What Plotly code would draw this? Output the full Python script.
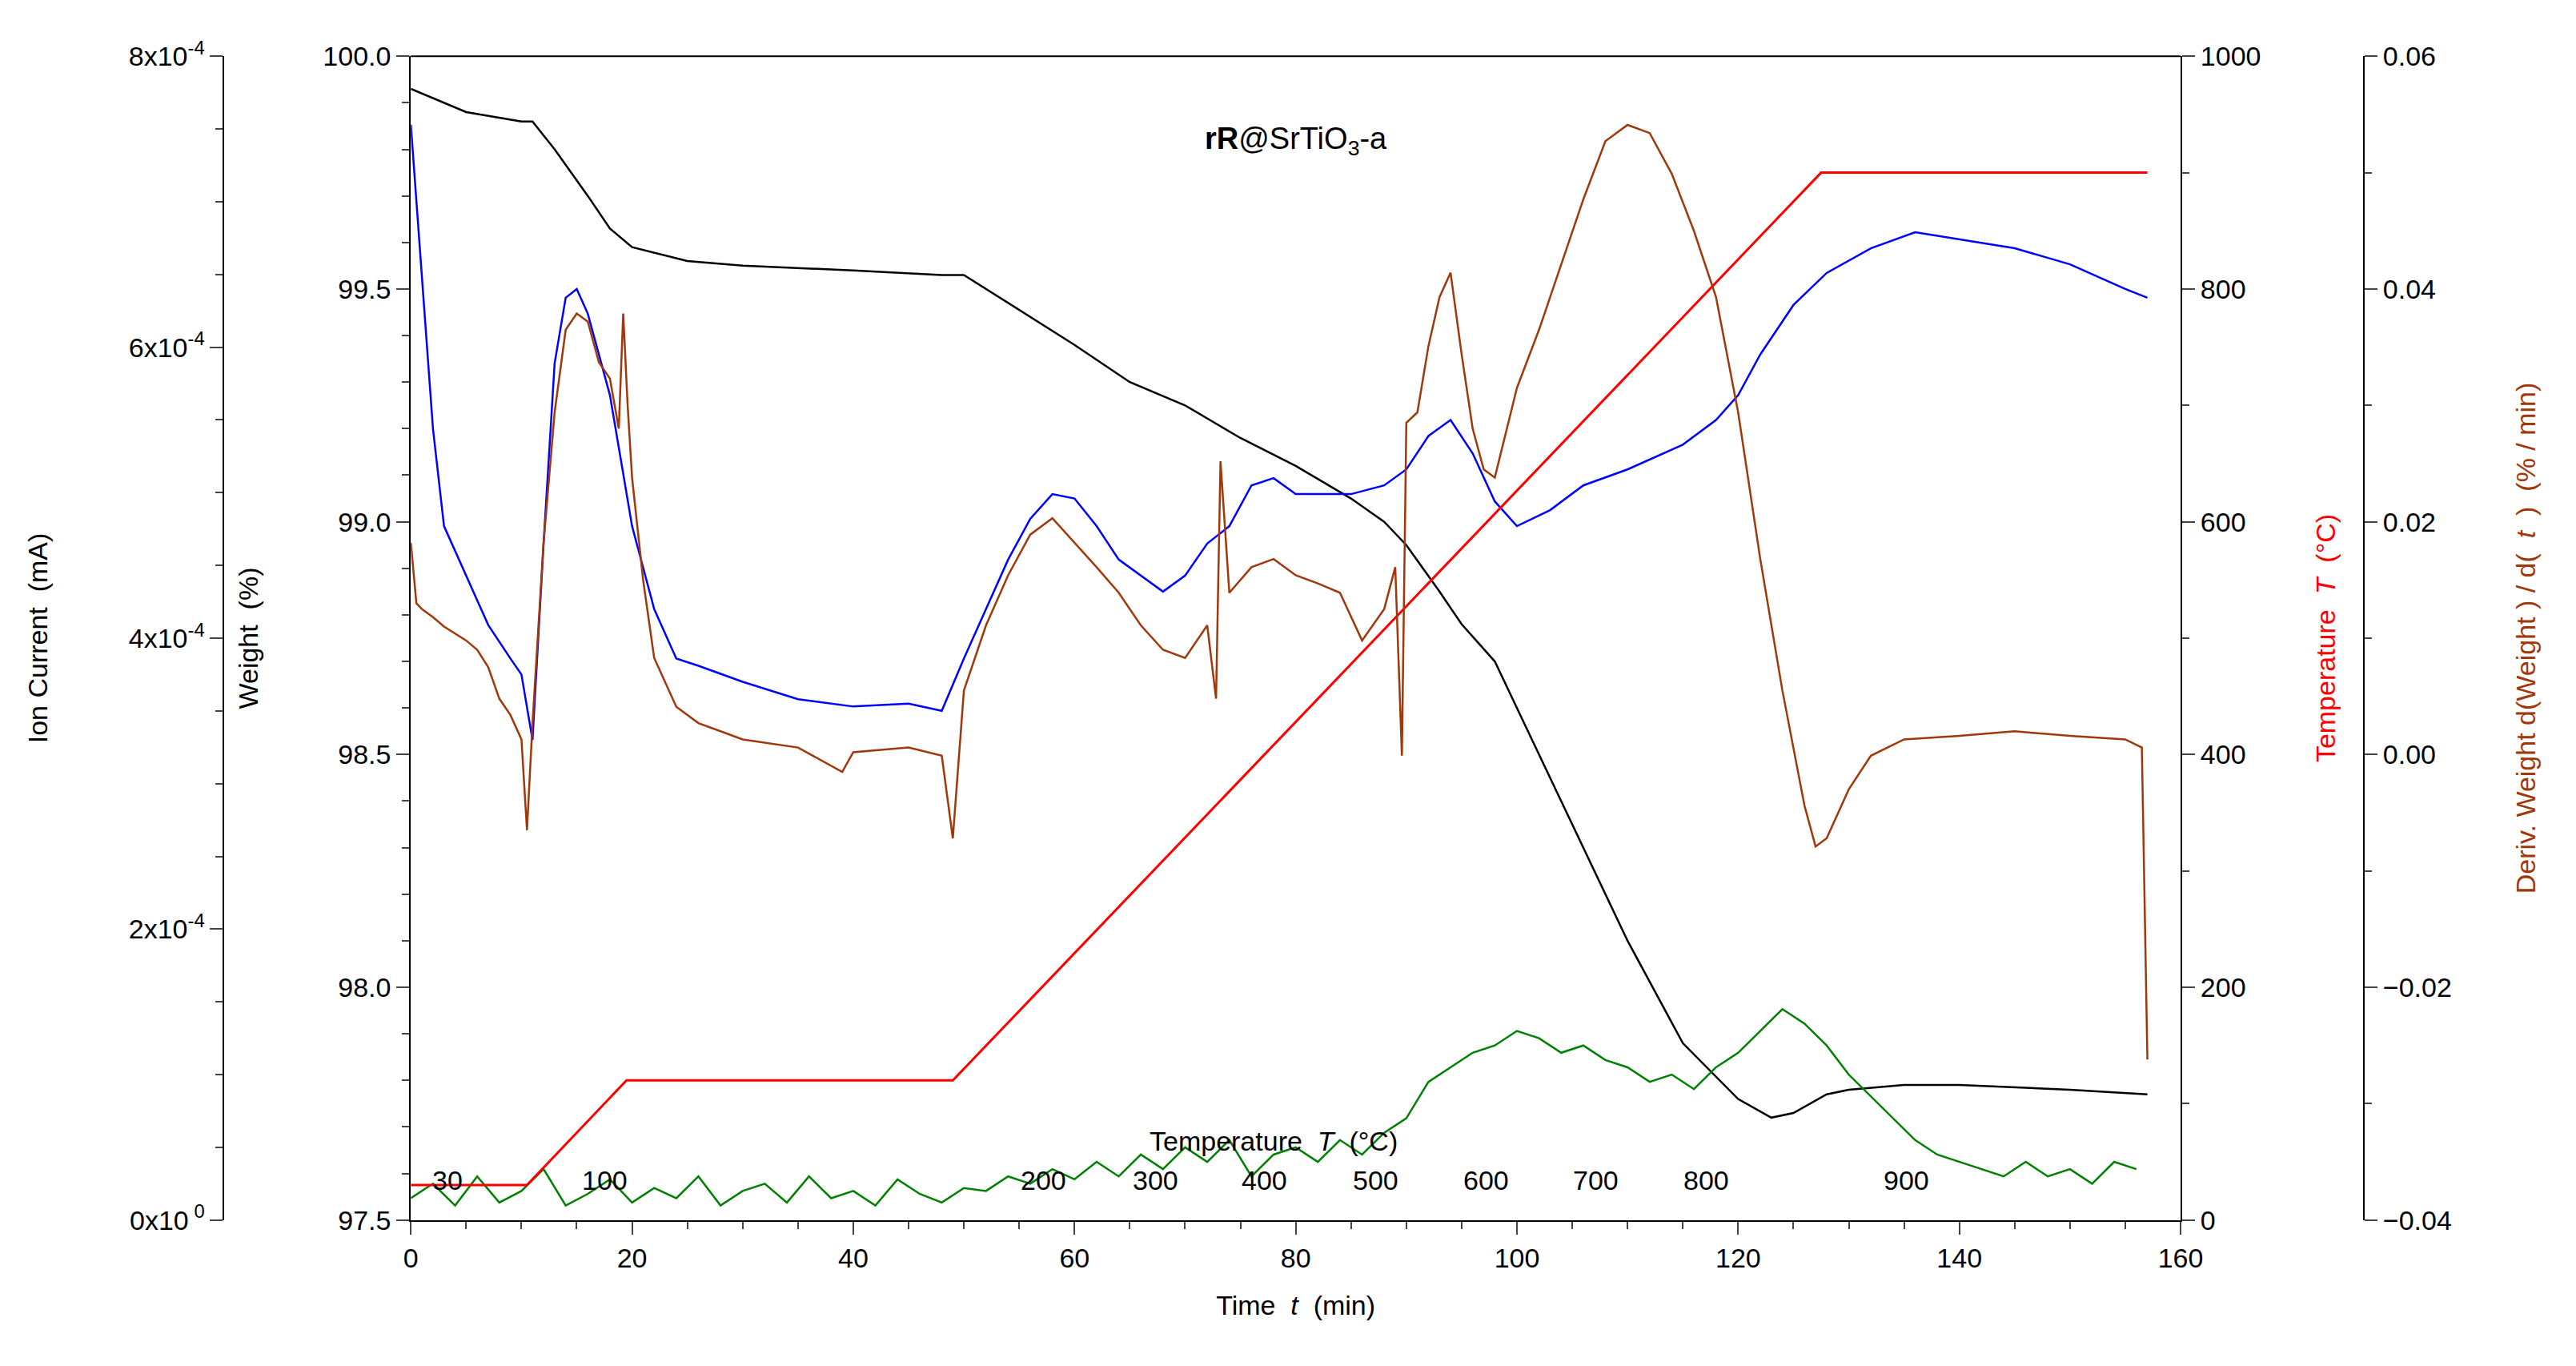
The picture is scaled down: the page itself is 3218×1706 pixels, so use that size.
import plotly.graph_objects as go

# weight (%)
w_t = [0, 5, 10, 11, 13, 16, 18, 20, 25, 30, 40, 48, 50, 52, 56, 60, 65, 70, 75, 80, 85, 88,
       90, 93, 95, 98, 100, 105, 110, 115, 120, 123, 125, 128, 130, 135, 140, 150, 157]
weight = [99.93, 99.88, 99.86, 99.86, 99.8, 99.7, 99.63, 99.59, 99.56, 99.55, 99.54, 99.53,
          99.53, 99.5, 99.44, 99.38, 99.3, 99.25, 99.18, 99.12, 99.05, 99.0, 98.95, 98.85,
          98.78, 98.7, 98.6, 98.35, 98.1, 97.88, 97.76, 97.72, 97.73, 97.77, 97.78, 97.79,
          97.79, 97.78, 97.77]

# temperature program (°C)
temp_t = [0, 10.5, 19.5, 49, 127.5, 157]
temp = [30, 30, 120, 120, 900, 900]

# ion current, blue (units of 1e-4 mA)
blue_t = [0, 1, 2, 3, 5, 7, 9, 10, 11, 12, 13, 14, 15, 16, 17, 18, 19, 20, 22, 24, 26, 30, 35,
          40, 45, 48, 50, 52, 54, 56, 58, 60, 62, 64, 66, 68, 70, 72, 74, 76, 78, 80, 85, 88,
          90, 92, 94, 96, 98, 100, 103, 106, 110, 115, 118, 120, 122, 125, 128, 132, 136,
          140, 145, 150, 155, 157]
blue = [7.53, 6.46, 5.44, 4.77, 4.43, 4.09, 3.86, 3.75, 3.30, 4.65, 5.89, 6.34, 6.40, 6.23,
        5.95, 5.67, 5.22, 4.77, 4.20, 3.86, 3.81, 3.70, 3.58, 3.53, 3.55, 3.50, 3.86, 4.20,
        4.54, 4.82, 4.99, 4.96, 4.77, 4.54, 4.43, 4.32, 4.43, 4.65, 4.77, 5.05, 5.10, 4.99,
        4.99, 5.05, 5.16, 5.39, 5.50, 5.27, 4.94, 4.77, 4.88, 5.05, 5.16, 5.33, 5.50, 5.67,
        5.95, 6.29, 6.51, 6.68, 6.79, 6.74, 6.68, 6.57, 6.40, 6.34]

# ion current, green (units of 1e-4 mA), every 2 min
green_t = list(range(0, 158, 2))
green = [0.15, 0.25, 0.1, 0.3, 0.12, 0.2, 0.35, 0.1, 0.18, 0.28, 0.12, 0.22, 0.15, 0.3, 0.1,
         0.2, 0.25, 0.12, 0.3, 0.15, 0.2, 0.1, 0.28, 0.18, 0.12, 0.22,
         0.2, 0.3, 0.25, 0.35, 0.28, 0.4, 0.3, 0.45, 0.35, 0.5, 0.4, 0.55, 0.3, 0.45, 0.5,
         0.4, 0.55, 0.45, 0.6, 0.7,
         0.95, 1.05, 1.15, 1.2, 1.3, 1.25, 1.15, 1.2, 1.1, 1.05, 0.95, 1.0, 0.9, 1.05, 1.15,
         1.3, 1.45, 1.35, 1.2, 1.0, 0.85, 0.7, 0.55, 0.45, 0.4, 0.35, 0.3, 0.4, 0.3, 0.35,
         0.25, 0.4, 0.35]

# derivative of weight (%/min)
dtg_t = [0, 0.5, 1, 2, 3, 4, 5, 6, 7, 8, 9, 10, 10.5, 11, 12, 13, 14, 15, 16, 17, 18, 18.8,
         19.2, 19.6, 20, 21, 22, 24, 26, 28, 30, 35, 39, 40, 45, 48, 49, 50, 52, 54, 56, 58,
         60, 62, 64, 66, 68, 70, 72, 72.8, 73.2, 74, 76, 78, 80, 82, 84, 86, 88, 89, 89.6,
         90, 91, 92, 93, 94, 95, 96, 97, 98, 100, 102, 104, 106, 108, 110, 112, 114, 116,
         118, 120, 122, 124, 126, 127, 128, 130, 132, 135, 140, 145, 150, 155, 156.5, 157]
dtg = [0.0182, 0.013, 0.0125, 0.0118, 0.011, 0.0104, 0.0098, 0.009, 0.0075, 0.0048, 0.0034,
       0.0013, -0.0065, 0.0027, 0.0182, 0.0294, 0.0365, 0.0379, 0.0372, 0.0337, 0.0323,
       0.028, 0.0379, 0.030, 0.0238, 0.015, 0.0083, 0.0041, 0.0027, 0.002, 0.0013, 0.0006,
       -0.0015, 0.0002, 0.0006, -0.0001, -0.0072, 0.0055, 0.0111, 0.0154, 0.0189, 0.0203,
       0.0182, 0.0161, 0.0139, 0.0111, 0.009, 0.0083, 0.0111, 0.0048, 0.0252, 0.0139,
       0.0161, 0.0168, 0.0154, 0.0147, 0.0139, 0.0098, 0.0125, 0.0161, -0.0001, 0.0285,
       0.0294, 0.0351, 0.0393, 0.0414, 0.0344, 0.028, 0.0245, 0.0238, 0.0315, 0.0365,
       0.0421, 0.0477, 0.0527, 0.0541, 0.0534, 0.0499, 0.045, 0.0393, 0.0294, 0.0168,
       0.0055, -0.0044, -0.0079, -0.0072, -0.003, -0.0001, 0.0013, 0.0016, 0.002, 0.0016,
       0.0013, 0.0006, -0.0262]

# temperature labels along the bottom
tl_x = [3.3, 17.5, 57.2, 67.3, 77.2, 87.2, 97.2, 107.1, 117.1, 135.2]
tl_text = ["30", "100", "200", "300", "400", "500", "600", "700", "800", "900"]

FONT = "Liberation Sans, Arial, sans-serif"
BROWN = "#a0380a"
fs = 34

fig = go.Figure()
fig.add_trace(go.Scatter(x=green_t, y=green, yaxis="y2", mode="lines",
                         line=dict(color="green", width=2.5)))
fig.add_trace(go.Scatter(x=blue_t, y=blue, yaxis="y2", mode="lines",
                         line=dict(color="blue", width=2.5)))
fig.add_trace(go.Scatter(x=dtg_t, y=dtg, yaxis="y4", mode="lines",
                         line=dict(color=BROWN, width=2.5)))
fig.add_trace(go.Scatter(x=temp_t, y=temp, yaxis="y3", mode="lines",
                         line=dict(color="red", width=3)))
fig.add_trace(go.Scatter(x=w_t, y=weight, yaxis="y", mode="lines",
                         line=dict(color="black", width=2.5)))

ax = dict(showline=True, linecolor="black", linewidth=2, ticks="outside", ticklen=16,
          tickwidth=2, showgrid=False, zeroline=False, tickfont=dict(size=fs, color="black"))

fig.update_layout(
    width=3218, height=1706, plot_bgcolor="white", paper_bgcolor="white",
    showlegend=False, margin=dict(l=0, r=0, t=0, b=0),
    font=dict(family=FONT, size=fs, color="black"),
    xaxis=dict(ax, domain=[0.156, 0.851], range=[0, 160], dtick=20,
               minor=dict(dtick=5, ticks="outside", ticklen=9, tickwidth=2),
               title=dict(text="Time  <i>t</i>  (min)", font=dict(size=fs), standoff=30)),
    yaxis=dict(ax, domain=[0.103, 0.977], range=[97.5, 100.0], dtick=0.5, tickformat=".1f",
               minor=dict(dtick=0.1, ticks="outside", ticklen=9, tickwidth=2),
               title=dict(text="Weight  (%)", font=dict(size=fs), standoff=70)),
    yaxis2=dict(ax, overlaying="y", anchor="free", position=0.0825, side="left",
                range=[0, 8], tickvals=[0, 2, 4, 6, 8],
                ticktext=["0x10<sup> 0</sup>", "2x10<sup>-4</sup>", "4x10<sup>-4</sup>",
                          "6x10<sup>-4</sup>", "8x10<sup>-4</sup>"],
                minor=dict(dtick=0.5, ticks="outside", ticklen=9, tickwidth=2),
                title=dict(text="Ion Current  (mA)", font=dict(size=fs), standoff=90)),
    yaxis3=dict(ax, overlaying="y", anchor="x", side="right", range=[0, 1000], dtick=200,
                minor=dict(dtick=100, ticks="outside", ticklen=9, tickwidth=2),
                title=dict(text="Temperature  <i>T</i>  (°C)",
                           font=dict(size=fs, color="red"), standoff=70)),
    yaxis4=dict(ax, overlaying="y", anchor="free", position=0.923, side="right",
                range=[-0.04, 0.06], dtick=0.02, tickformat=".2f",
                minor=dict(dtick=0.01, ticks="outside", ticklen=9, tickwidth=2),
                title=dict(text="Deriv. Weight d(Weight ) / d(  <i>t</i>  )  (% / min)",
                           font=dict(size=fs, color=BROWN), standoff=80)),
)

# top frame line
fig.add_shape(type="line", xref="x domain", yref="y domain", x0=0, x1=1, y0=1, y1=1,
              line=dict(color="black", width=2))

fig.add_annotation(x=0.5, y=0.945, xref="x domain", yref="y domain", showarrow=False,
                   text="<b>rR</b>@SrTiO<sub>3</sub>-a", font=dict(size=38))
fig.add_annotation(x=78, y=97.67, xref="x", yref="y", showarrow=False,
                   text="Temperature  <i>T</i>  (°C)", font=dict(size=fs))
for x, s in zip(tl_x, tl_text):
    fig.add_annotation(x=x, y=97.585, xref="x", yref="y", showarrow=False,
                       text=s, font=dict(size=fs))

fig.write_html("out.html")
